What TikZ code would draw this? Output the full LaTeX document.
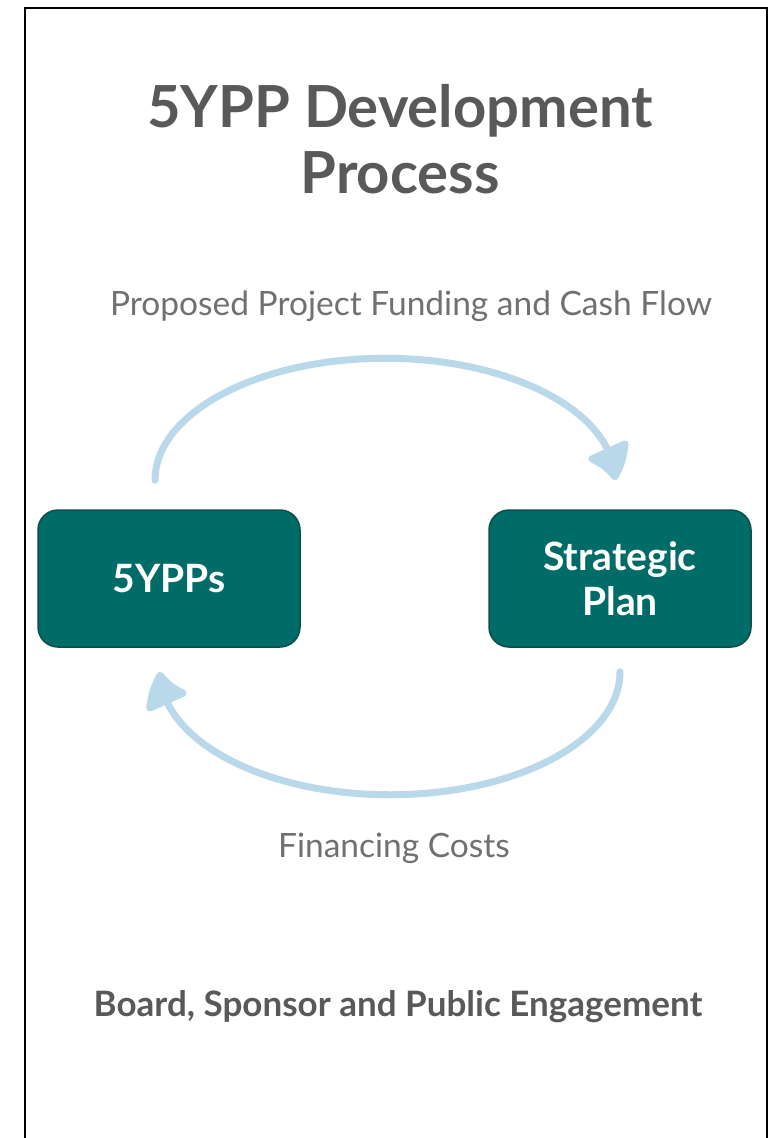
\documentclass[tikz,border=0pt]{standalone}
\usepackage{fontspec}
\setmainfont{Lato}
\usetikzlibrary{arrows.meta,bending}
\definecolor{boxfill}{HTML}{006C67}
\definecolor{boxedge}{HTML}{0B4F4B}
\definecolor{flowblue}{HTML}{B9D9EB}
\definecolor{headgray}{HTML}{595959}
\definecolor{labelgray}{HTML}{707070}
\begin{document}
\begin{tikzpicture}[x=1pt,y=1pt,
    procbox/.style={draw=boxedge,line width=1.5pt,fill=boxfill,rounded corners=20pt,
      minimum width=262pt,minimum height=137pt,text=white,align=center,
      font=\fontsize{39}{45}\selectfont\bfseries},
    flow/.style={draw=flowblue,line width=7pt,line cap=round,
      -{Triangle[length=36pt,width=48pt,round,bend]}},
    flowlabel/.style={text=labelgray,font=\fontsize{33.5}{38}\selectfont}]
  \useasboundingbox (0,0) rectangle (777,-1138);
  % frame, open at the bottom
  \draw[line width=2pt] (25,-1138) -- (25,-8) -- (767,-8) -- (767,-1138);
  \node[text=headgray,align=center,font=\fontsize{58}{66}\selectfont\bfseries] (title) at (400,-139) {5YPP Development\\Process};
  \node[procbox] (ypp) at (169,-578.5) {5YPPs};
  \node[procbox] (plan) at (620,-578.5) {Strategic\\Plan};
  \draw[flow] ([xshift=-14,yshift=29]ypp.north) arc[start angle=180,end angle=0,x radius=230,y radius=122];
  \draw[flow] ([yshift=-24]plan.south) arc[start angle=0,end angle=-180,x radius=230,y radius=123];
  \node[flowlabel] (fundlbl) at (411,-306) {Proposed Project Funding and Cash Flow};
  \node[flowlabel] (costlbl) at (394,-848) {Financing Costs};
  \node[text=headgray,font=\fontsize{35}{40}\selectfont\bfseries] (engage) at (398,-1007) {Board, Sponsor and Public Engagement};
\end{tikzpicture}
\end{document}
